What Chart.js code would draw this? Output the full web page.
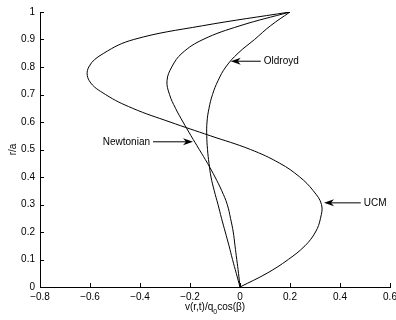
<!DOCTYPE html>
<html>
<head>
<meta charset="utf-8">
<script src="https://cdn.jsdelivr.net/npm/chart.js@4.4.1/dist/chart.umd.min.js"></script>
<style>
  html, body { margin: 0; padding: 0; background: #fff; }
  canvas { display: block; }
</style>
</head>
<body>
<canvas id="profile-chart" width="396" height="320"></canvas>
<script>
// r/a samples shared by all three profiles
const rValues = [0, 0.05, 0.1, 0.15, 0.2, 0.25, 0.3, 0.35, 0.4, 0.45, 0.5,
                 0.55, 0.6, 0.65, 0.7, 0.75, 0.8, 0.85, 0.9, 0.95, 1];

// v(r,t)/q0 cos(beta)
const ucmValues = [0, 0.108, 0.193, 0.26, 0.302, 0.322, 0.326, 0.293, 0.239, 0.159, 0.042,
                   -0.119, -0.28, -0.43, -0.538, -0.603, -0.605, -0.545, -0.425, -0.15, 0.2];
const newtonianValues = [0, -0.006, -0.013, -0.02, -0.027, -0.038, -0.051, -0.073, -0.1, -0.13, -0.163,
                         -0.196, -0.228, -0.258, -0.282, -0.292, -0.273, -0.232, -0.148, 0.0, 0.2];
const oldroydValues = [0, -0.015, -0.03, -0.044, -0.059, -0.074, -0.088, -0.103, -0.116, -0.124, -0.13,
                       -0.133, -0.132, -0.124, -0.11, -0.088, -0.057, -0.008, 0.058, 0.122, 0.2];

const xTicks = [-0.8, -0.6, -0.4, -0.2, 0, 0.2, 0.4, 0.6];
const yTicks = [0, 0.1, 0.2, 0.3, 0.4, 0.5, 0.6, 0.7, 0.8, 0.9, 1];

// arrow labels, tip and tail in data units
const labels = [
    { text: "Newtonian", tip: [-0.188, 0.528], tail: [-0.348, 0.528] },
    { text: "Oldroyd", tip: [-0.037, 0.821], tail: [0.083, 0.821] },
    { text: "UCM", tip: [0.336, 0.306], tail: [0.483, 0.306] }
];

const FONT = "'Liberation Sans', Arial, Helvetica, sans-serif";

function toPoints(values) {
    return rValues.map((r, i) => ({ x: values[i], y: r }));
}

function fmt(v) {
    if (Math.abs(v) < 1e-9) return "0";
    if (Math.abs(v - 1) < 1e-9) return "1";
    return (v < 0 ? "\u2212" : "") + Math.abs(v).toFixed(1);
}

// inward ticks, x title with subscript and the arrow labels
const extras = {
    id: "extras",
    afterDraw(chart) {
        const { ctx, chartArea: a, scales: { x, y } } = chart;
        ctx.save();
        ctx.strokeStyle = "#000";
        ctx.fillStyle = "#000";
        ctx.lineWidth = 1;

        ctx.beginPath();
        x.ticks.forEach(t => {
            const px = Math.round(x.getPixelForValue(t.value)) + 0.5;
            ctx.moveTo(px, a.bottom);
            ctx.lineTo(px, a.bottom - 4);
        });
        y.ticks.forEach(t => {
            const py = Math.round(y.getPixelForValue(t.value)) + 0.5;
            ctx.moveTo(a.left, py);
            ctx.lineTo(a.left + 4, py);
        });
        ctx.stroke();

        // x axis title: v(r,t)/q0cos(β)
        const partA = "v(r,t)/q", sub = "0", partB = "cos(\u03B2)";
        ctx.font = "10px " + FONT;
        const wA = ctx.measureText(partA).width;
        const wB = ctx.measureText(partB).width;
        ctx.font = "7px " + FONT;
        const wS = ctx.measureText(sub).width;
        let tx = (a.left + a.right) / 2 - (wA + wS + wB) / 2;
        const base = 310;
        ctx.textBaseline = "alphabetic";
        ctx.textAlign = "left";
        ctx.font = "10px " + FONT;
        ctx.fillText(partA, tx, base);
        ctx.font = "7px " + FONT;
        ctx.fillText(sub, tx + wA, base + 4);
        ctx.font = "10px " + FONT;
        ctx.fillText(partB, tx + wA + wS, base);

        // arrows
        labels.forEach(l => {
            const tipX = x.getPixelForValue(l.tip[0]), tipY = y.getPixelForValue(l.tip[1]);
            const tailX = x.getPixelForValue(l.tail[0]), tailY = y.getPixelForValue(l.tail[1]);
            const ang = Math.atan2(tipY - tailY, tipX - tailX);
            const cos = Math.cos(ang), sin = Math.sin(ang);
            const pt = (u, w) => [tipX + u * cos - w * sin, tipY + u * sin + w * cos];

            ctx.beginPath();
            ctx.moveTo(tailX, tailY);
            const e = pt(-7, 0);
            ctx.lineTo(e[0], e[1]);
            ctx.stroke();

            ctx.beginPath();
            const p1 = pt(-10, -3.5), p2 = pt(-7, 0), p3 = pt(-10, 3.5);
            ctx.moveTo(tipX, tipY);
            ctx.lineTo(p1[0], p1[1]);
            ctx.lineTo(p2[0], p2[1]);
            ctx.lineTo(p3[0], p3[1]);
            ctx.closePath();
            ctx.fill();

            ctx.font = "10px " + FONT;
            ctx.textBaseline = "middle";
            if (tailX < tipX) {
                ctx.textAlign = "right";
                ctx.fillText(l.text, tailX - 3, tailY);
            } else {
                ctx.textAlign = "left";
                ctx.fillText(l.text, tailX + 3, tailY);
            }
        });
        ctx.restore();
    }
};

const lineStyle = {
    showLine: true,
    borderColor: "#000",
    backgroundColor: "#000",
    borderWidth: 1,
    pointRadius: 0,
    tension: 0.4,
    fill: false
};

new Chart(document.getElementById("profile-chart"), {
    type: "scatter",
    data: {
        datasets: [
            Object.assign({ label: "UCM", data: toPoints(ucmValues) }, lineStyle),
            Object.assign({ label: "Newtonian", data: toPoints(newtonianValues) }, lineStyle),
            Object.assign({ label: "Oldroyd", data: toPoints(oldroydValues) }, lineStyle)
        ]
    },
    options: {
        responsive: false,
        animation: false,
        devicePixelRatio: 1,
        layout: { padding: { top: 12, right: 6, left: 0, bottom: 0 } },
        plugins: {
            legend: { display: false },
            tooltip: { enabled: false }
        },
        scales: {
            x: {
                type: "linear",
                min: -0.8,
                max: 0.6,
                afterBuildTicks: s => { s.ticks = xTicks.map(v => ({ value: v })); },
                afterFit: s => { s.height = 33; s.paddingLeft = 0; s.paddingRight = 0; },
                grid: { display: false, drawTicks: false },
                border: { display: true, color: "#000", width: 1 },
                ticks: {
                    color: "#000",
                    padding: 4,
                    maxRotation: 0,
                    font: { family: FONT, size: 10 },
                    callback: v => fmt(v)
                }
            },
            y: {
                type: "linear",
                min: 0,
                max: 1,
                afterBuildTicks: s => { s.ticks = yTicks.map(v => ({ value: v })); },
                afterFit: s => { s.width = 40; s.paddingTop = 0; s.paddingBottom = 0; },
                grid: { display: false, drawTicks: false },
                border: { display: true, color: "#000", width: 1 },
                title: {
                    display: true,
                    text: "r/a",
                    color: "#000",
                    font: { family: FONT, size: 10 },
                    padding: { top: 7.5, bottom: 0 }
                },
                ticks: {
                    color: "#000",
                    padding: 5,
                    font: { family: FONT, size: 10 },
                    callback: v => fmt(v)
                }
            }
        }
    },
    plugins: [extras]
});
</script>
</body>
</html>
